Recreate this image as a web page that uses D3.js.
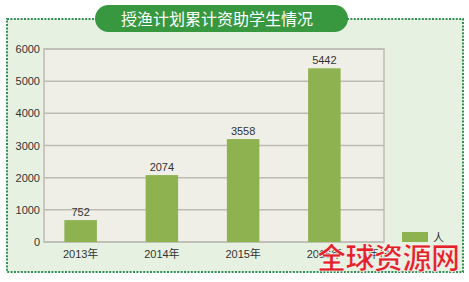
<!DOCTYPE html>
<html>
<head>
<meta charset="utf-8">
<script src="https://cdn.jsdelivr.net/npm/d3@7"></script>
<style>
  body { margin: 0; background: #fff; }
  text { font-family: "Liberation Sans", Arial, "Noto Sans CJK SC", sans-serif; }
</style>
</head>
<body>
<div id="main"></div>
<script>
// data
var years = ["2013年", "2014年", "2015年", "2016年"];
var labels = [752, 2074, 3558, 5442];      // printed numbers
var barHeights = [680, 2080, 3200, 5400];  // bars as drawn (they do not match the labels)
var yTicks = [0, 1000, 2000, 3000, 4000, 5000, 6000];

var svg = d3.select("#main").append("svg")
    .attr("width", 469)
    .attr("height", 282);

// dotted frame with light green fill
svg.append("rect")
    .attr("x", 7).attr("y", 19)
    .attr("width", 456).attr("height", 253)
    .attr("fill", "#e7f1e1")
    .attr("stroke", "#2f8f55")
    .attr("stroke-width", 2)
    .attr("stroke-dasharray", "2 1.4");

// title pill
svg.append("rect")
    .attr("x", 95).attr("y", 5)
    .attr("width", 253).attr("height", 27)
    .attr("rx", 13.5)
    .attr("fill", "#37983f");
svg.append("text")
    .attr("x", 217).attr("y", 25)
    .attr("text-anchor", "middle")
    .attr("fill", "#fff")
    .style("font-family", "'Noto Sans CJK SC', sans-serif")
    .style("font-size", "16px")
    .text("授渔计划累计资助学生情况");

var pLeft = 44, pRight = 384, pTop = 49, pBottom = 242;

var y = d3.scaleLinear().domain([0, 6000]).range([pBottom, pTop]);
var x = d3.scaleBand().domain(years).range([40, 365])
    .paddingInner(0.6).paddingOuter(0.3);

// plot background
svg.append("rect")
    .attr("x", pLeft).attr("y", pTop)
    .attr("width", pRight - pLeft).attr("height", pBottom - pTop)
    .attr("fill", "#efefe8")
    .attr("stroke", "#bcbcb4")
    .attr("stroke-width", 1.5);

// gridlines
svg.selectAll(".grid").data(yTicks).enter().append("line")
    .attr("x1", pLeft).attr("x2", pRight)
    .attr("y1", d => y(d)).attr("y2", d => y(d))
    .attr("stroke", "#bcbcb4")
    .attr("stroke-width", 1.5);

// y axis labels
var yAxis = d3.axisLeft(y).tickValues(yTicks).tickFormat(d3.format("d")).tickSize(0).tickPadding(4);
var ya = svg.append("g").attr("transform", "translate(" + pLeft + ",0)").call(yAxis);
ya.select(".domain").remove();
ya.selectAll("text").style("font-size", "11px").attr("fill", "#333")
    .style("font-family", "'Liberation Sans', Arial, sans-serif");

// bars
svg.selectAll(".bar").data(barHeights).enter().append("rect")
    .attr("x", (d, i) => x(years[i]))
    .attr("y", d => y(d))
    .attr("width", x.bandwidth())
    .attr("height", d => pBottom - y(d))
    .attr("fill", "#8db24f");

// value labels
svg.selectAll(".val").data(labels).enter().append("text")
    .attr("x", (d, i) => x(years[i]) + x.bandwidth() / 2)
    .attr("y", (d, i) => y(barHeights[i]) - 4)
    .attr("text-anchor", "middle")
    .attr("fill", "#333")
    .style("font-size", "11px")
    .text(d => d);

// x axis labels
var xAxis = d3.axisBottom(x).tickSize(0).tickPadding(8);
var xa = svg.append("g").attr("transform", "translate(0," + pBottom + ")").call(xAxis);
xa.select(".domain").remove();
xa.selectAll("text").style("font-size", "11px").attr("fill", "#333")
    .style("font-family", "'Liberation Sans', 'Noto Sans CJK SC', sans-serif");

// axis title, mostly hidden under watermark
svg.append("text")
    .attr("x", 368).attr("y", 258)
    .attr("fill", "#333")
    .style("font-size", "11px")
    .style("font-family", "'Noto Sans CJK SC', sans-serif")
    .text("年份");

// legend
svg.append("rect")
    .attr("x", 402).attr("y", 232)
    .attr("width", 26).attr("height", 10)
    .attr("fill", "#8db24f");
svg.append("text")
    .attr("x", 433).attr("y", 242)
    .attr("fill", "#333")
    .style("font-size", "11px")
    .style("font-family", "'Noto Sans CJK SC', sans-serif")
    .text("人");

// watermark
svg.append("text")
    .attr("x", 317).attr("y", 269)
    .attr("fill", "#e2222b")
    .attr("stroke", "#fff")
    .attr("stroke-width", 0.6)
    .style("font-size", "29px")
    .style("font-weight", "bold")
    .style("font-family", "'Noto Sans CJK SC', sans-serif")
    .attr("textLength", 143)
    .text("全球资源网");
</script>
</body>
</html>
